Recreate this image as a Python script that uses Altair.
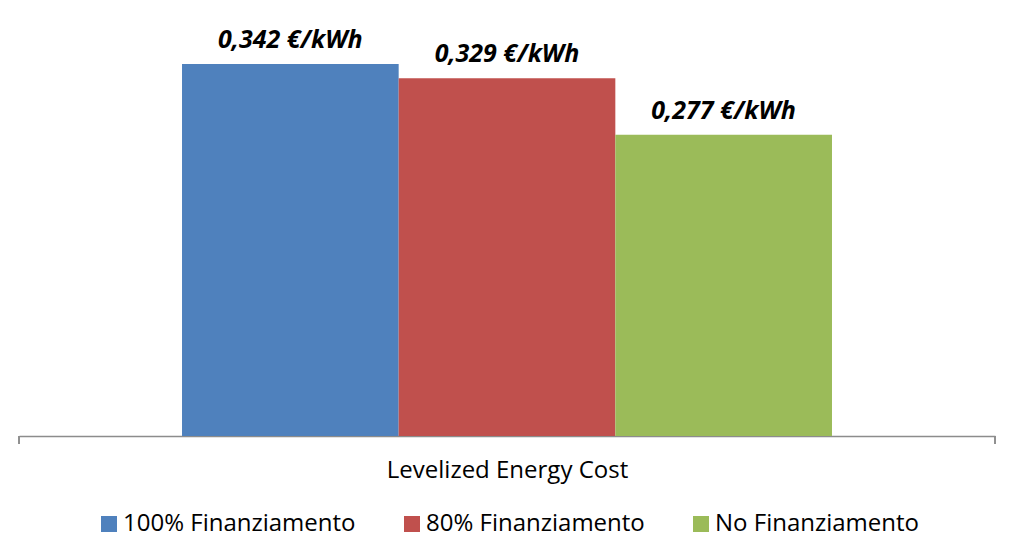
import altair as alt
import pandas as pd

category = ["Levelized Energy Cost"] * 3
series = ["100% Finanziamento", "80% Finanziamento", "No Finanziamento"]
values = [0.342, 0.329, 0.277]
labels = ["0,342 €/kWh", "0,329 €/kWh", "0,277 €/kWh"]
colors = ["#4F81BD", "#C0504D", "#9BBB59"]

df = pd.DataFrame({"cat": category, "series": series, "value": values, "label": labels})

FONT = "Open Sans"

x = alt.X("cat:N", scale=alt.Scale(paddingInner=0, paddingOuter=0.2508),
          axis=alt.Axis(title="Levelized Energy Cost", labels=False, ticks=False,
                        domainColor="#8C8C8C", domainWidth=1.3,
                        titleFontSize=24, titleFont=FONT, titleFontWeight="normal",
                        titleColor="#000000", titlePadding=22))
xo = alt.XOffset("series:N", sort=series, scale=alt.Scale(paddingInner=0, paddingOuter=0))
y = alt.Y("value:Q", scale=alt.Scale(domain=[0, 0.3843]), axis=None)

bars = alt.Chart(df).mark_bar().encode(
    x=x, xOffset=xo, y=y,
    color=alt.Color("series:N", sort=series,
                    scale=alt.Scale(domain=series, range=colors),
                    legend=alt.Legend(title=None, orient="none", direction="horizontal",
                                      legendX=78, legendY=494,
                                      symbolType="square", symbolSize=256,
                                      symbolStrokeWidth=0, labelFontSize=24, labelFont=FONT,
                                      labelColor="#000000", columnPadding=44,
                                      labelOffset=2, labelLimit=400)),
)

text = alt.Chart(df).mark_text(baseline="bottom", dy=-11, fontSize=25, font=FONT,
                               fontStyle="italic", fontWeight="bold", color="#000000").encode(
    x=x, xOffset=xo, y=y, text="label:N"
)

ticks = alt.Chart(df).mark_rule(color="#8C8C8C", strokeWidth=1.3).encode(
    x=alt.value(0), y=alt.value(418), y2=alt.value(426)
)
ticks2 = alt.Chart(df).mark_rule(color="#8C8C8C", strokeWidth=1.3).encode(
    x=alt.value(976), y=alt.value(418), y2=alt.value(426)
)

chart = alt.layer(bars, text, ticks, ticks2).properties(
    width=976, height=418,
    padding={"left": 10, "top": 10, "right": 0, "bottom": 4},
).configure(background="white", view=alt.ViewConfig(stroke=None))

chart.save("out.html", embed_options={"renderer": "svg", "actions": False})
